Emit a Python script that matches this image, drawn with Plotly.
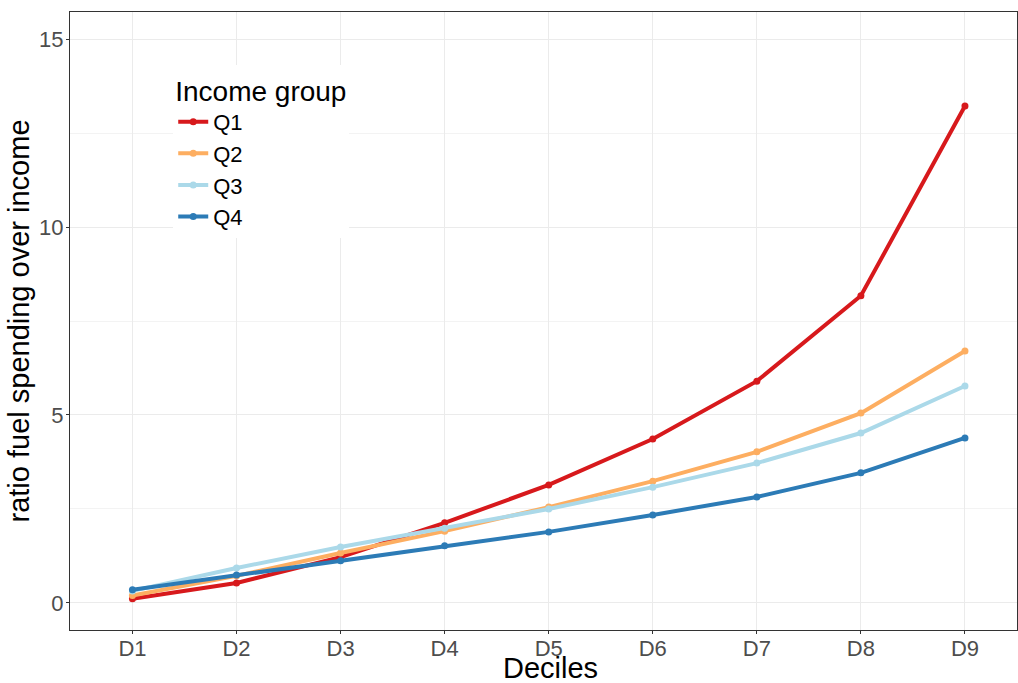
import plotly.graph_objects as go

deciles = ["D1", "D2", "D3", "D4", "D5", "D6", "D7", "D8", "D9"]
q1 = [0.11, 0.53, 1.22, 2.13, 3.14, 4.36, 5.90, 8.17, 13.22]
q2 = [0.20, 0.72, 1.33, 1.91, 2.55, 3.24, 4.02, 5.05, 6.70]
q3 = [0.32, 0.93, 1.49, 1.99, 2.50, 3.08, 3.72, 4.52, 5.77]
q4 = [0.35, 0.74, 1.12, 1.52, 1.89, 2.34, 2.82, 3.46, 4.39]
series_names = ["Q1", "Q2", "Q3", "Q4"]
colors = ["#d7191c", "#fdae61", "#abd9e9", "#2c7bb6"]

fig = go.Figure()
for name, vals, col in zip(series_names, [q1, q2, q3, q4], colors):
    fig.add_trace(go.Scatter(
        x=deciles, y=vals, name=name, mode="lines+markers",
        line=dict(color=col, width=4), marker=dict(color=col, size=7),
    ))

fig.update_layout(
    width=1018, height=683,
    margin=dict(l=70, r=1, t=12, b=53, autoexpand=False),
    plot_bgcolor="white", paper_bgcolor="white",
    font=dict(family="Liberation Sans, Arial, sans-serif", color="black"),
    legend=dict(
        title=dict(text="Income group", font=dict(size=28)),
        font=dict(size=22), x=0.109, y=0.915, xanchor="left", yanchor="top",
        bgcolor="white", tracegroupgap=0, itemwidth=30,
    ),
    showlegend=True,
    annotations=[dict(
        text="Deciles", xref="paper", yref="paper", x=0.507, y=-0.0615,
        xanchor="center", yanchor="middle", showarrow=False,
        font=dict(size=29, color="black"),
    )],
)
fig.update_xaxes(
    type="category", range=[-0.6, 8.5], automargin=False,
    tickfont=dict(size=22, color="#4d4d4d"), ticklabelstandoff=-4,
    showgrid=True, gridcolor="#ebebeb", gridwidth=1,
    showline=True, linecolor="#333333", linewidth=1, mirror=True,
    ticks="outside", ticklen=3, tickcolor="#333333", zeroline=False,
)
fig.update_yaxes(
    range=[-0.72, 15.72], tickvals=[0, 5, 10, 15], automargin=False,
    title=dict(text="ratio fuel spending over income", font=dict(size=29), standoff=0),
    tickfont=dict(size=22, color="#4d4d4d"), ticklabelstandoff=-2,
    showgrid=True, gridcolor="#ebebeb", gridwidth=1,
    minor=dict(tickvals=[2.5, 7.5, 12.5], showgrid=True, gridcolor="#f3f3f3", gridwidth=1),
    showline=True, linecolor="#333333", linewidth=1, mirror=True,
    ticks="outside", ticklen=3, tickcolor="#333333", zeroline=False,
)

fig.write_html(
    "out.html",
    config={"displayModeBar": False},
    post_script="document.body.style.margin='0';document.body.style.overflow='hidden';",
)
